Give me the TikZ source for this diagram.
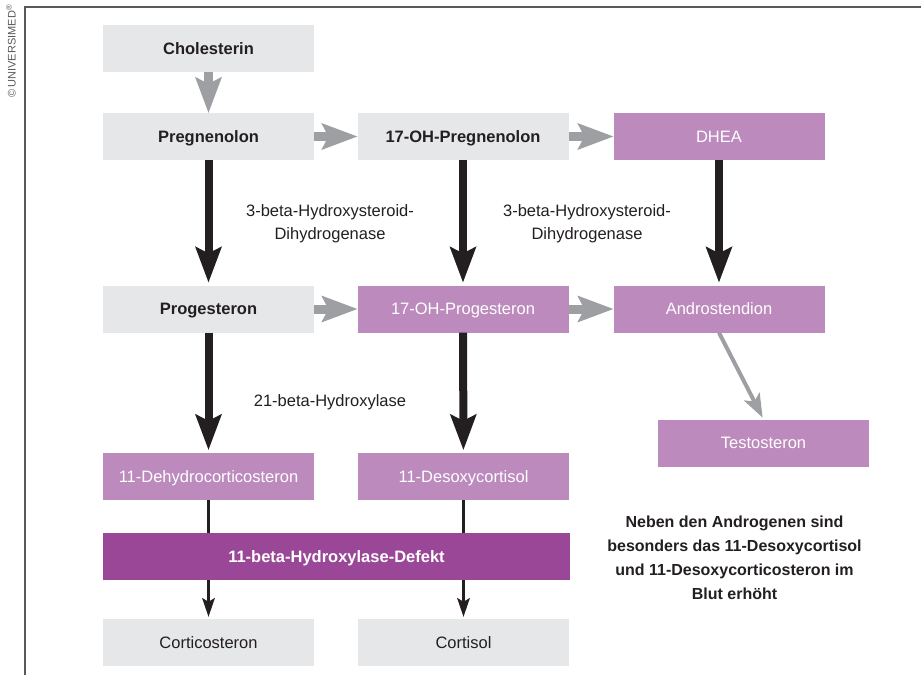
\documentclass[tikz,border=0pt]{standalone}
\usepackage{fontspec}
\setmainfont{Liberation Sans}
\usetikzlibrary{arrows.meta}
\definecolor{boxgray}{HTML}{E6E7E8}
\definecolor{lilac}{HTML}{BC8ABD}
\definecolor{plum}{HTML}{9B4797}
\definecolor{arrgray}{HTML}{9D9FA2}
\definecolor{ink}{HTML}{231F20}
\definecolor{framegray}{HTML}{58595B}
\begin{document}
\begin{tikzpicture}[x=1pt,y=-1pt,
  box/.style={minimum width=211pt, minimum height=47pt, inner sep=0pt,
    text height=11.8pt, text depth=0pt, font=\fontsize{16.5}{20}\selectfont},
  graybox/.style={box, fill=boxgray, text=ink},
  lilacbox/.style={box, fill=lilac, text=white},
  garr/.style={draw=arrgray, line width=9pt,
    -{Stealth[length=36pt,width=27pt,inset=7pt,line width=0pt]}},
  barr/.style={draw=ink, line width=8pt, shorten >=3pt,
    -{Stealth[length=36pt,width=27pt,inset=7pt,line width=0pt]}},
  tarr/.style={draw=arrgray, line width=4pt, shorten >=2pt,
    -{Stealth[length=24pt,width=18pt,inset=6pt,line width=0pt]}},
  thinline/.style={draw=ink, line width=3pt},
  thinarr/.style={draw=ink, line width=3pt, shorten >=2pt,
    -{Stealth[length=19pt,width=13pt,inset=4pt,line width=0pt]}},
  lbl/.style={align=center, text=ink, font=\fontsize{16.5}{23}\selectfont},
  note/.style={align=center, text=ink, font=\fontsize{16}{24}\selectfont\bfseries},
  frameline/.style={draw=framegray, line width=1.5pt}
]
\useasboundingbox (0,0) rectangle (921,675);
% frame
\draw[frameline] (25,675) -- (25,7) -- (921,7);
\node[rotate=90, text=framegray, inner sep=0pt, font=\fontsize{11}{12}\selectfont] (copy) at (11,51)
  {\textcopyright\,UNIVERSIMED\textsuperscript{\textregistered}};

% boxes
\node[graybox, font=\fontsize{16.5}{20}\selectfont\bfseries] (chol) at (208.5,48.5) {Cholesterin};
\node[graybox, font=\fontsize{16.5}{20}\selectfont\bfseries] (preg) at (208.5,136.5) {Pregnenolon};
\node[graybox, font=\fontsize{16.5}{20}\selectfont\bfseries] (ohpreg) at (463,136.5) {17-OH-Pregnenolon};
\node[lilacbox] (dhea) at (719,136.5) {DHEA};
\node[graybox, font=\fontsize{16.5}{20}\selectfont\bfseries] (prog) at (208.5,309) {Progesteron};
\node[lilacbox] (ohprog) at (463,309) {17-OH-Progesteron};
\node[lilacbox] (andro) at (719,309) {Androstendion};
\node[lilacbox] (testo) at (763.5,443) {Testosteron};
\node[lilacbox] (dehydro) at (208.5,476.5) {11-Dehydrocorticosteron};
\node[lilacbox] (desoxy) at (463.5,476.5) {11-Desoxycortisol};
\node[box, fill=plum, text=white, minimum width=467pt, font=\fontsize{16.5}{20}\selectfont\bfseries] (defekt) at (336.5,556.5) {11-beta-Hydroxylase-Defekt};
\node[graybox] (cortico) at (208.5,642.5) {Corticosteron};
\node[graybox] (cortisol) at (463.5,642.5) {Cortisol};

% labels
\node[lbl] (enz1) at (330,223.5) {3-beta-Hydroxysteroid-\\Dihydrogenase};
\node[lbl] (enz2) at (587,223.5) {3-beta-Hydroxysteroid-\\Dihydrogenase};
\node[lbl] (enz3) at (330,402) {21-beta-Hydroxylase};
\node[note] (info) at (734.5,558) {Neben den Androgenen sind\\besonders das 11-Desoxycortisol\\und 11-Desoxycorticosteron im\\Blut erhöht};

% gray arrows
\draw[garr] (chol) -- (preg);
\draw[garr] (preg) -- (ohpreg);
\draw[garr] (ohpreg) -- (dhea);
\draw[garr] (prog) -- (ohprog);
\draw[garr] (ohprog) -- (andro);
\draw[tarr] (andro.south) -- (testo.north);

% black arrows
\draw[barr] (preg) -- (prog);
\draw[barr] (ohpreg) -- (ohprog);
\draw[barr] (dhea) -- (andro);
\draw[barr] (prog) -- (dehydro);
\draw[barr] (ohprog) -- (desoxy);

% thin connectors through the defect bar
\draw[thinline] (dehydro) -- (defekt.north -| dehydro);
\draw[thinline] (desoxy) -- (defekt.north -| desoxy);
\draw[thinarr] (defekt.south -| cortico) -- (cortico);
\draw[thinarr] (defekt.south -| cortisol) -- (cortisol);
\end{tikzpicture}
\end{document}
